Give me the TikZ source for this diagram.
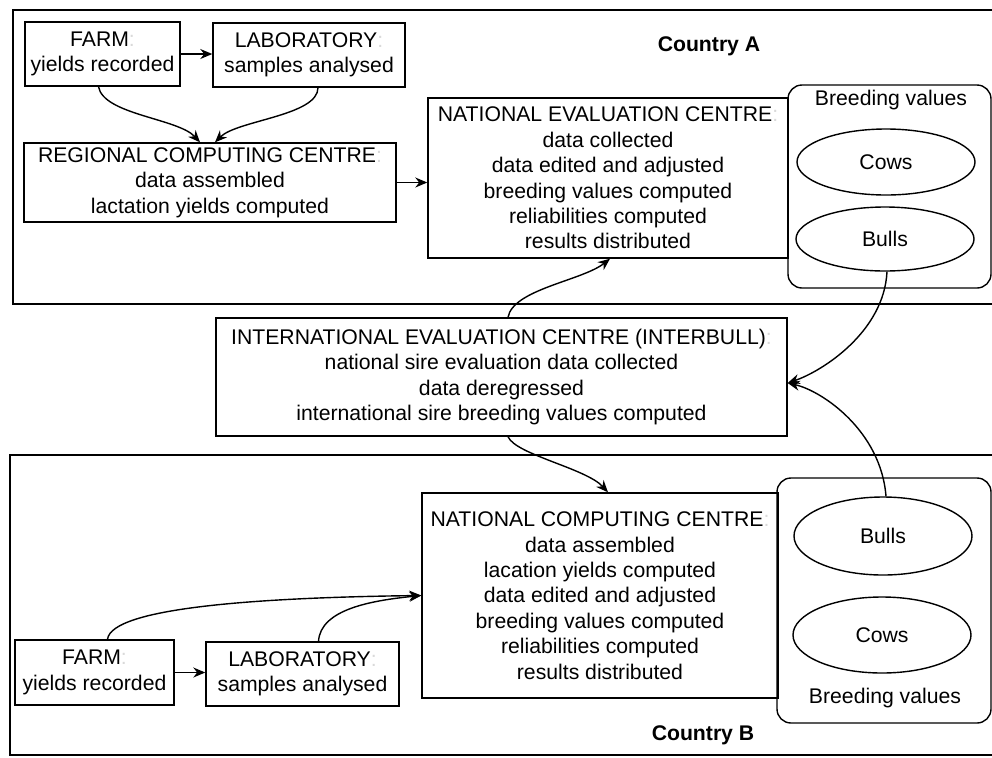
\documentclass[tikz,border=0pt]{standalone}
\usepackage{fontspec}
\setmainfont{Liberation Sans}
\usetikzlibrary{arrows.meta,shapes.geometric}

\newcommand{\fcolon}{{\color{gray!30}:}}

\begin{document}
\begin{tikzpicture}[x=0.5pt,y=-0.5pt,font=\fontsize{10.6}{12.7}\selectfont,
        box/.style={draw,line width=0.7pt,align=center,inner sep=0pt},
        bvbox/.style={draw,line width=0.7pt,rounded corners=7pt,inner sep=0pt},
        animal/.style={draw,ellipse,line width=0.7pt,inner sep=0pt,minimum width=89pt},
        arr/.style={line width=0.7pt,-{Stealth[length=6pt,width=5pt]}},
        countryframe/.style={line width=0.8pt}]
        \useasboundingbox (0,0) rectangle (992,757);
        \clip (0,0) rectangle (992,757);

        \draw[countryframe] (1000,10) -- (13,10) -- (13,304) -- (1000,304);
        \draw[countryframe] (1000,455) -- (10,455) -- (10,755) -- (1000,755);

        \node (countryA) at (709,46) {\bfseries Country A};
        \node (countryB) at (703,735) {\bfseries Country B};

        \node[box,minimum width=77.5pt,minimum height=32pt] (farmA) at (102.5,54) {FARM\fcolon\\yields recorded};
        \node[box,minimum width=96pt,minimum height=32pt] (labA) at (309,55) {LABORATORY\fcolon\\samples analysed};
        \node[box,minimum width=186pt,minimum height=39.5pt] (regA) at (210,182.5) {REGIONAL COMPUTING CENTRE\fcolon\\data assembled\\lactation yields computed};
        \node[box,minimum width=180pt,minimum height=80pt] (natA) at (608,178) {NATIONAL EVALUATION CENTRE\fcolon\\data collected\\data edited and adjusted\\breeding values computed\\reliabilities computed\\results distributed};

        \node[bvbox,minimum width=101.5pt,minimum height=101.5pt] (bvA) at (889.5,186.5) {};
        \node (bvlabelA) at (891,100) {Breeding values};
        \node[animal,minimum height=33pt] (cowsA) at (886,162) {Cows};
        \node[animal,minimum height=32pt] (bullsA) at (885,239) {Bulls};

        \node[box,minimum width=285.5pt,minimum height=59pt] (intl) at (501.5,377) {INTERNATIONAL EVALUATION CENTRE (INTERBULL)\fcolon\\national sire evaluation data collected\\data deregressed\\international sire breeding values computed};

        \node[box,minimum width=178pt,minimum height=102.5pt] (natB) at (600,595.5) {NATIONAL COMPUTING CENTRE\fcolon\\data assembled\\lacation yields computed\\data edited and adjusted\\breeding values computed\\reliabilities computed\\results distributed};

        \node[bvbox,minimum width=107pt,minimum height=122.5pt] (bvB) at (884,600.5) {};
        \node (bvlabelB) at (885,698) {Breeding values};
        \node[animal,minimum height=39pt] (bullsB) at (883,536) {Bulls};
        \node[animal,minimum height=38pt] (cowsB) at (882,635) {Cows};

        \node[box,minimum width=79.5pt,minimum height=32.5pt] (farmB) at (94.5,672.5) {FARM\fcolon\\yields recorded};
        \node[box,minimum width=96.5pt,minimum height=32pt] (labB) at (302.5,674) {LABORATORY\fcolon\\samples analysed};

        \draw[arr] (farmA.east) -- (farmA.east -| labA.west);
        \draw[arr] ([xshift=-2pt]farmA.south) .. controls +(5,28) and +(-22,-24) .. ([xshift=-5pt]regA.north);
        \draw[arr] ([xshift=4.5pt]labA.south) .. controls +(0,28) and +(22,-22) .. ([xshift=2.5pt]regA.north);
        \draw[arr] (regA.east) -- (regA.east -| natA.west);

        \draw[arr] ([xshift=3.25pt]intl.north) .. controls +(5,-28) and +(-28,22) .. ([xshift=1pt]natA.south);
        \draw[arr] ([xshift=3.25pt]intl.south) .. controls +(8,18) and +(-22,-24) .. ([xshift=4pt]natB.north);
        \draw[arr] ([xshift=1pt]bullsA.south) .. controls +(-3,60) and +(35,-12) .. ([yshift=-3pt]intl.east);
        \draw[arr] ([xshift=1.5pt]bullsB.north) .. controls +(-5,-65) and +(35,8) .. ([yshift=-3pt]intl.east);

        \draw[arr] (farmB.east) -- (farmB.east -| labB.west);
        \draw[arr] ([xshift=6.5pt]farmB.north) .. controls +(4,-32) and +(-160,2) .. (natB.west);
        \draw[arr] ([xshift=8pt]labB.north) .. controls +(2,-32) and +(-50,5) .. (natB.west);
    \end{tikzpicture}
\end{document}
